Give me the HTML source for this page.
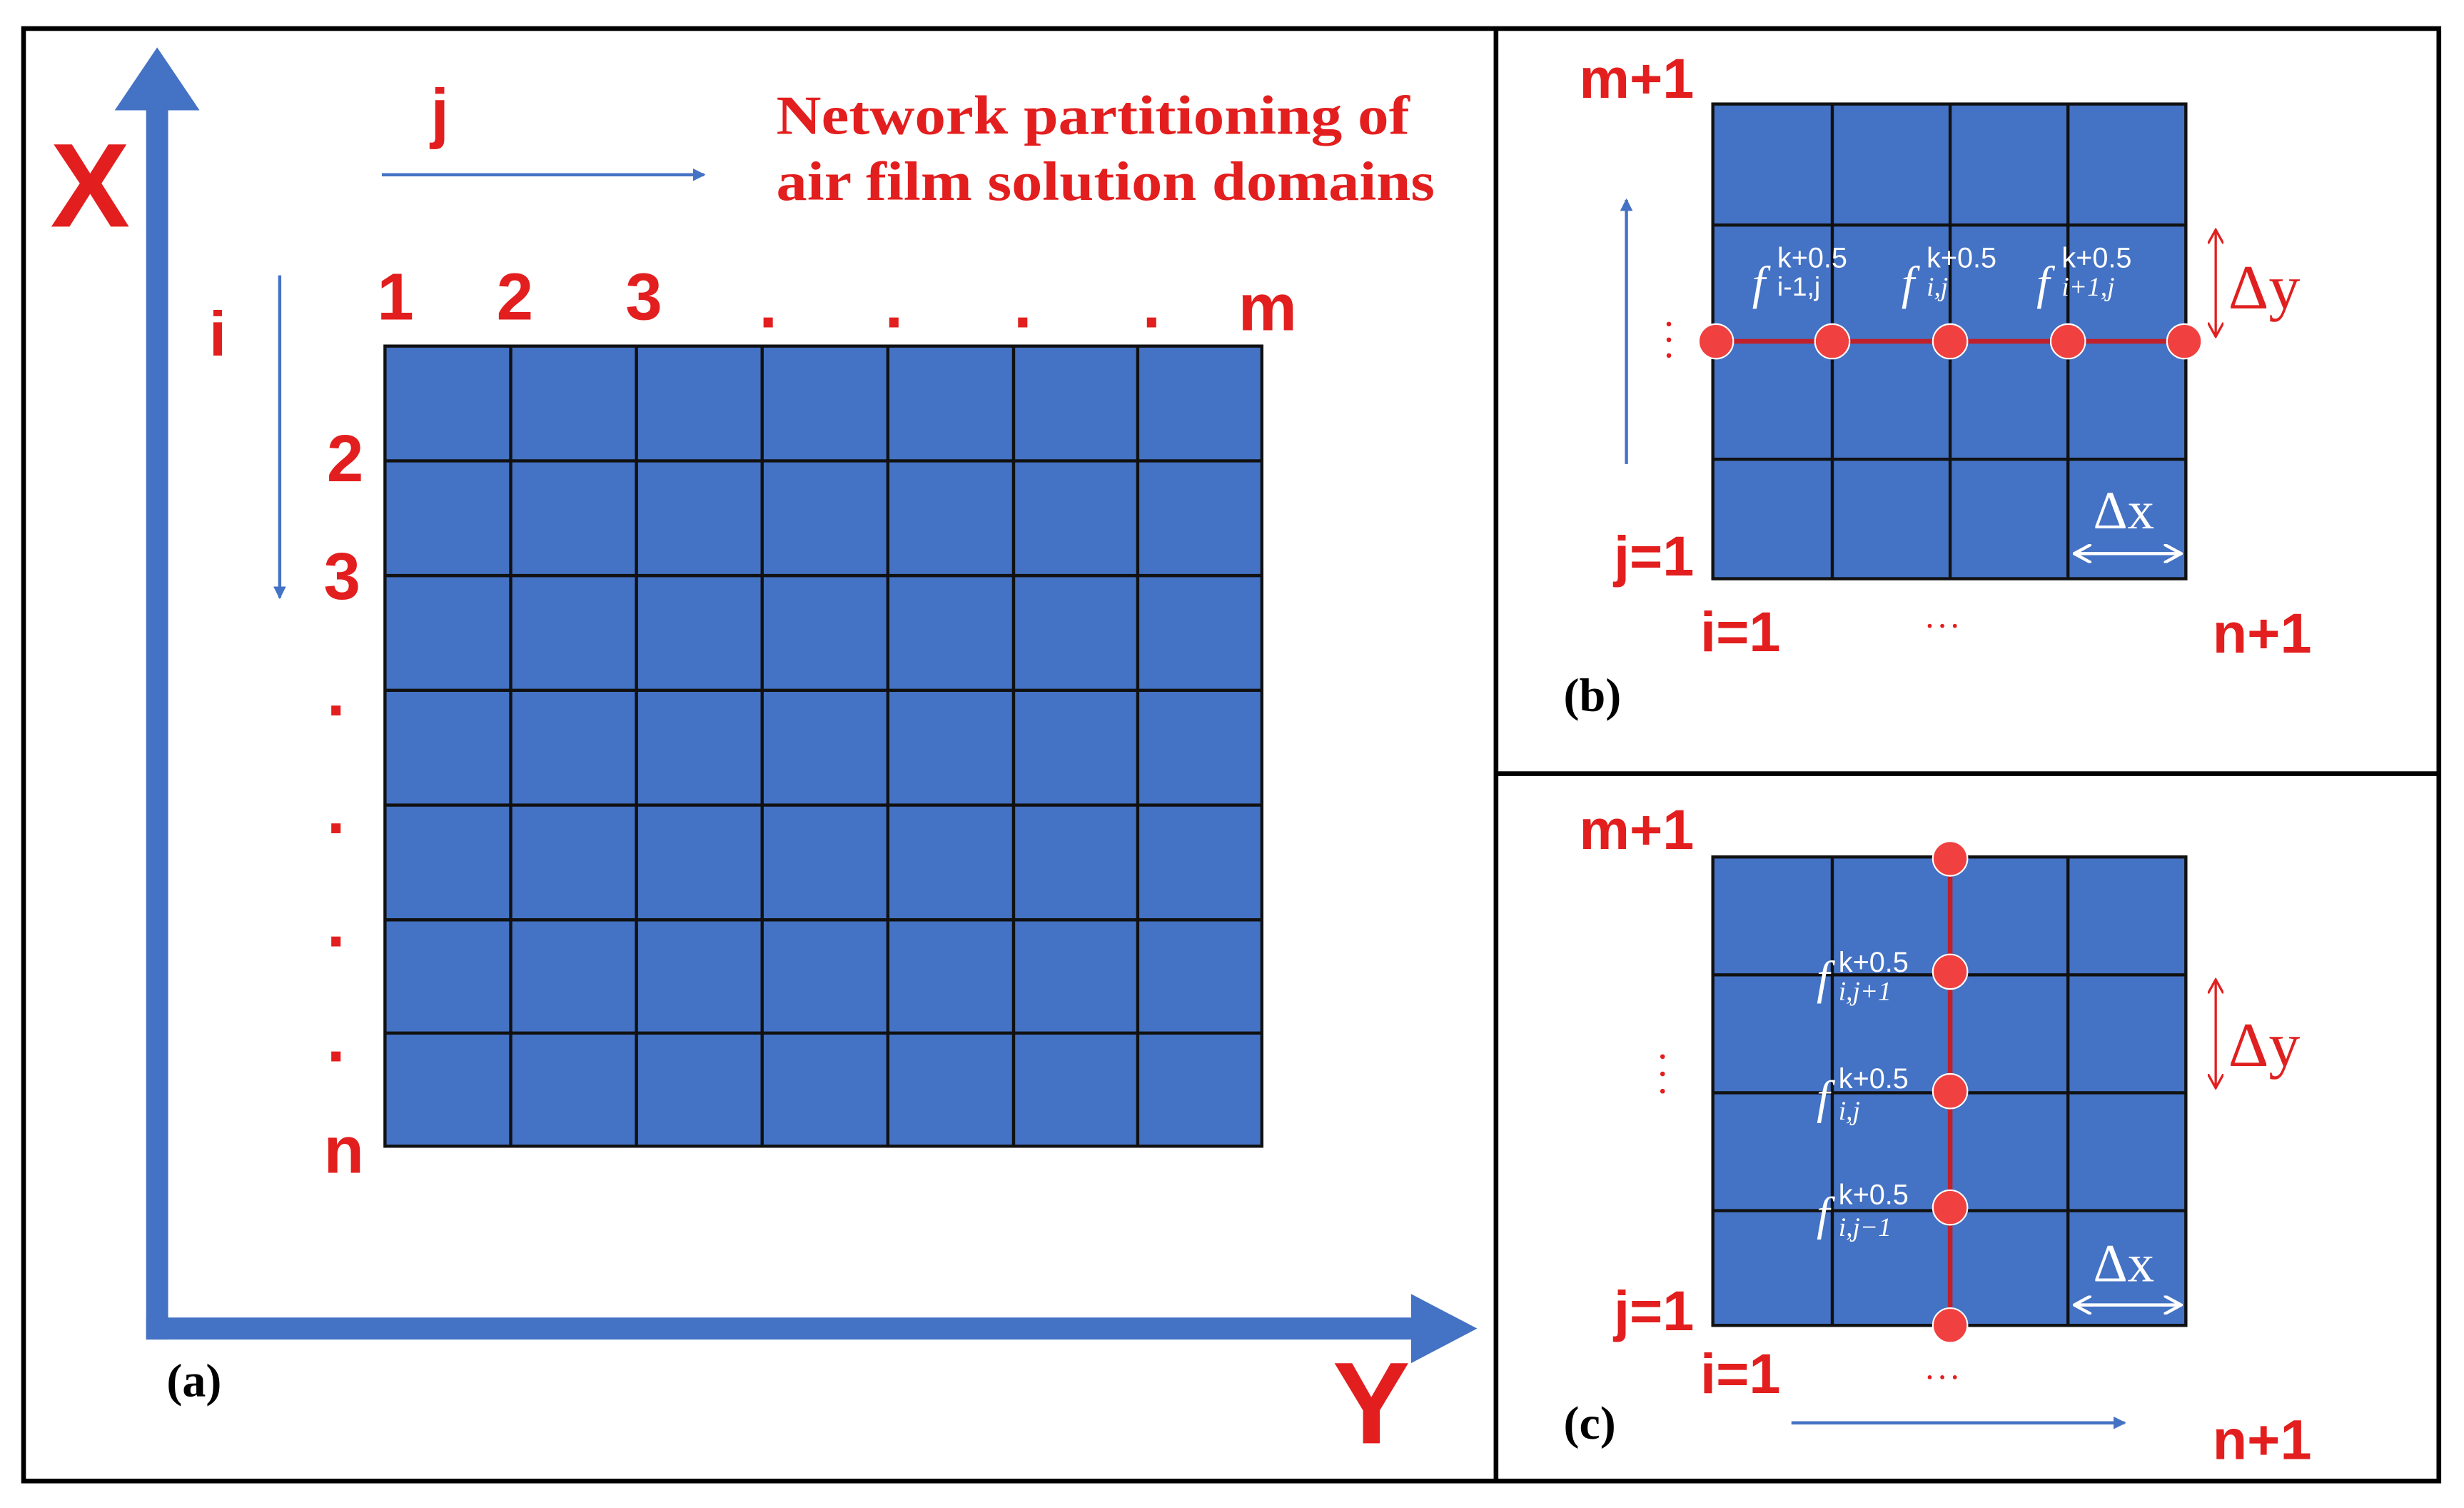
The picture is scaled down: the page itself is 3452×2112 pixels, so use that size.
<!DOCTYPE html>
<html><head><meta charset="utf-8"><style>html,body{margin:0;padding:0;background:#fff}svg{display:block}</style></head>
<body>
<svg width="3452" height="2112" viewBox="0 0 1568 959" xmlns="http://www.w3.org/2000/svg">
<defs>
<marker id="ab" markerWidth="8" markerHeight="8" refX="7" refY="4" orient="auto" markerUnits="userSpaceOnUse"><path d="M0,0 L8,4 L0,8 Z" fill="#4472C4"/></marker>
<marker id="ar" markerWidth="10" markerHeight="10" refX="9" refY="5" orient="auto-start-reverse" markerUnits="userSpaceOnUse"><path d="M0,0 L9,5 L0,10" fill="none" stroke="#e02020" stroke-width="1.5"/></marker>
<marker id="aw" markerWidth="12" markerHeight="12" refX="11" refY="6" orient="auto-start-reverse" markerUnits="userSpaceOnUse"><path d="M0,0 L11,6 L0,12" fill="none" stroke="#fff" stroke-width="2"/></marker>
</defs>
<rect width="1568" height="959" fill="#fff"/>
<rect x="15" y="18" width="1537" height="924" fill="none" stroke="#000" stroke-width="3"/>
<line x1="952" y1="18" x2="952" y2="942" stroke="#000" stroke-width="3"/>
<line x1="952" y1="492" x2="1552" y2="492" stroke="#000" stroke-width="3"/>

<g fill="#4472C4">
<rect x="93" y="68" width="14" height="784"/>
<polygon points="100,30 127,70 73,70"/>
<rect x="93" y="838" width="810" height="14"/>
<polygon points="940,845 898,823 898,867"/>
</g>
<rect x="245" y="220" width="558" height="509" fill="#4472C4" stroke="#111" stroke-width="2"/>
<g stroke="#111" stroke-width="2">
<line x1="325" y1="220" x2="325" y2="729"/><line x1="405" y1="220" x2="405" y2="729"/><line x1="485" y1="220" x2="485" y2="729"/><line x1="565" y1="220" x2="565" y2="729"/><line x1="645" y1="220" x2="645" y2="729"/><line x1="724" y1="220" x2="724" y2="729"/>
<line x1="245" y1="293" x2="803" y2="293"/><line x1="245" y1="366" x2="803" y2="366"/><line x1="245" y1="439" x2="803" y2="439"/><line x1="245" y1="512" x2="803" y2="512"/><line x1="245" y1="585" x2="803" y2="585"/><line x1="245" y1="657" x2="803" y2="657"/>
</g>
<line x1="243" y1="111" x2="448" y2="111" stroke="#4472C4" stroke-width="2" marker-end="url(#ab)"/>
<line x1="178" y1="175" x2="178" y2="380" stroke="#4472C4" stroke-width="2" marker-end="url(#ab)"/>
<g fill="#e31e1e" font-family="Liberation Sans, sans-serif" font-weight="bold">
<text x="32" y="144" font-size="76">X</text>
<text x="848" y="918" font-size="74">Y</text>
<text x="274" y="86" font-size="42">j</text>
<text x="133" y="226" font-size="40">i</text>
<text x="240" y="203" font-size="42">1</text>
<text x="316" y="203" font-size="42">2</text>
<text x="398" y="203" font-size="42">3</text>
<text x="483" y="208" font-size="42">.</text>
<text x="563" y="208" font-size="42">.</text>
<text x="645" y="208" font-size="42">.</text>
<text x="727" y="208" font-size="42">.</text>
<text x="788" y="210" font-size="42">m</text>
<text x="208" y="306" font-size="42">2</text>
<text x="206" y="381" font-size="42">3</text>
<text x="208" y="455" font-size="42">.</text>
<text x="208" y="530" font-size="42">.</text>
<text x="208" y="602" font-size="42">.</text>
<text x="208" y="675" font-size="42">.</text>
<text x="206" y="746" font-size="42">n</text>
</g>
<g fill="#e31e1e" font-family="Liberation Serif, serif" font-weight="bold" font-size="35">
<text x="494" y="85" textLength="403" lengthAdjust="spacingAndGlyphs">Network partitioning of</text>
<text x="494" y="127" textLength="419" lengthAdjust="spacingAndGlyphs">air film solution domains</text>
</g>
<text x="106" y="888" font-family="Liberation Serif, serif" font-weight="bold" font-size="30">(a)</text>

<rect x="1090" y="66" width="301" height="302" fill="#4472C4" stroke="#111" stroke-width="2"/>
<g stroke="#111" stroke-width="2">
<line x1="1166" y1="66" x2="1166" y2="368"/><line x1="1241" y1="66" x2="1241" y2="368"/><line x1="1316" y1="66" x2="1316" y2="368"/>
<line x1="1090" y1="143" x2="1391" y2="143"/><line x1="1090" y1="292" x2="1391" y2="292"/>
</g>
<line x1="1092" y1="217" x2="1390" y2="217" stroke="#c0202a" stroke-width="3"/>
<g fill="#f04040" stroke="#fff" stroke-width="1">
<circle cx="1092" cy="217" r="11"/><circle cx="1166" cy="217" r="11"/><circle cx="1241" cy="217" r="11"/><circle cx="1316" cy="217" r="11"/><circle cx="1390" cy="217" r="11"/>
</g>
<g fill="#fff" font-family="Liberation Serif, serif">
<text x="1115" y="190" font-size="30" font-style="italic">f</text><text x="1131" y="170" font-size="18" font-family="Liberation Sans, sans-serif">k+0.5</text><text x="1131" y="188" font-size="17" font-family="Liberation Sans, sans-serif">i-1,j</text>
<text x="1210" y="190" font-size="30" font-style="italic">f</text><text x="1226" y="170" font-size="18" font-family="Liberation Sans, sans-serif">k+0.5</text><text x="1226" y="188" font-size="17" font-style="italic">i,j</text>
<text x="1296" y="190" font-size="30" font-style="italic">f</text><text x="1312" y="170" font-size="18" font-family="Liberation Sans, sans-serif">k+0.5</text><text x="1312" y="188" font-size="17" font-style="italic">i+1,j</text>
<text x="1332" y="336" font-size="34">Δx</text>
</g>
<line x1="1320" y1="352" x2="1388" y2="352" stroke="#fff" stroke-width="2" marker-start="url(#aw)" marker-end="url(#aw)"/>
<line x1="1410" y1="146" x2="1410" y2="214" stroke="#e02020" stroke-width="1.5" marker-start="url(#ar)" marker-end="url(#ar)"/>
<text x="1418" y="196" fill="#e02020" font-family="Liberation Serif, serif" font-size="40">Δy</text>
<line x1="1035" y1="295" x2="1035" y2="127" stroke="#4472C4" stroke-width="2" marker-end="url(#ab)"/>
<g fill="#e31e1e"><circle cx="1062" cy="206" r="1.5"/><circle cx="1062" cy="216" r="1.5"/><circle cx="1062" cy="226" r="1.5"/>
<circle cx="1228" cy="398" r="1.3"/><circle cx="1236" cy="398" r="1.3"/><circle cx="1244" cy="398" r="1.3"/></g>
<g fill="#e31e1e" font-family="Liberation Sans, sans-serif" font-weight="bold" font-size="36">
<text x="1005" y="62">m+1</text><text x="1027" y="366">j=1</text><text x="1082" y="414">i=1</text><text x="1408" y="415">n+1</text>
</g>
<text x="995" y="452" font-family="Liberation Serif, serif" font-weight="bold" font-size="30">(b)</text>

<rect x="1090" y="545" width="301" height="298" fill="#4472C4" stroke="#111" stroke-width="2"/>
<g stroke="#111" stroke-width="2">
<line x1="1166" y1="545" x2="1166" y2="843"/><line x1="1316" y1="545" x2="1316" y2="843"/>
<line x1="1090" y1="620" x2="1391" y2="620"/><line x1="1090" y1="695" x2="1391" y2="695"/><line x1="1090" y1="770" x2="1391" y2="770"/>
</g>
<line x1="1241" y1="546" x2="1241" y2="843" stroke="#c0202a" stroke-width="3"/>
<g fill="#f04040" stroke="#fff" stroke-width="1">
<circle cx="1241" cy="546" r="11"/><circle cx="1241" cy="618" r="11"/><circle cx="1241" cy="694" r="11"/><circle cx="1241" cy="768" r="11"/><circle cx="1241" cy="843" r="11"/>
</g>
<g fill="#fff" font-family="Liberation Serif, serif">
<text x="1156" y="632" font-size="30" font-style="italic">f</text><text x="1170" y="618" font-size="18" font-family="Liberation Sans, sans-serif">k+0.5</text><text x="1170" y="636" font-size="17" font-style="italic">i,j+1</text>
<text x="1156" y="708" font-size="30" font-style="italic">f</text><text x="1170" y="692" font-size="18" font-family="Liberation Sans, sans-serif">k+0.5</text><text x="1170" y="712" font-size="17" font-style="italic">i,j</text>
<text x="1156" y="782" font-size="30" font-style="italic">f</text><text x="1170" y="766" font-size="18" font-family="Liberation Sans, sans-serif">k+0.5</text><text x="1170" y="786" font-size="17" font-style="italic">i,j−1</text>
<text x="1332" y="815" font-size="34">Δx</text>
</g>
<line x1="1320" y1="830" x2="1388" y2="830" stroke="#fff" stroke-width="2" marker-start="url(#aw)" marker-end="url(#aw)"/>
<line x1="1410" y1="623" x2="1410" y2="692" stroke="#e02020" stroke-width="1.5" marker-start="url(#ar)" marker-end="url(#ar)"/>
<text x="1418" y="678" fill="#e02020" font-family="Liberation Serif, serif" font-size="40">Δy</text>
<line x1="1140" y1="905" x2="1352" y2="905" stroke="#4472C4" stroke-width="2" marker-end="url(#ab)"/>
<g fill="#e31e1e"><circle cx="1058" cy="672" r="1.5"/><circle cx="1058" cy="683" r="1.5"/><circle cx="1058" cy="694" r="1.5"/>
<circle cx="1228" cy="876" r="1.3"/><circle cx="1236" cy="876" r="1.3"/><circle cx="1244" cy="876" r="1.3"/></g>
<g fill="#e31e1e" font-family="Liberation Sans, sans-serif" font-weight="bold" font-size="36">
<text x="1005" y="540">m+1</text><text x="1027" y="846">j=1</text><text x="1082" y="886">i=1</text><text x="1408" y="928">n+1</text>
</g>
<text x="995" y="915" font-family="Liberation Serif, serif" font-weight="bold" font-size="30">(c)</text>
</svg>
</body></html>
